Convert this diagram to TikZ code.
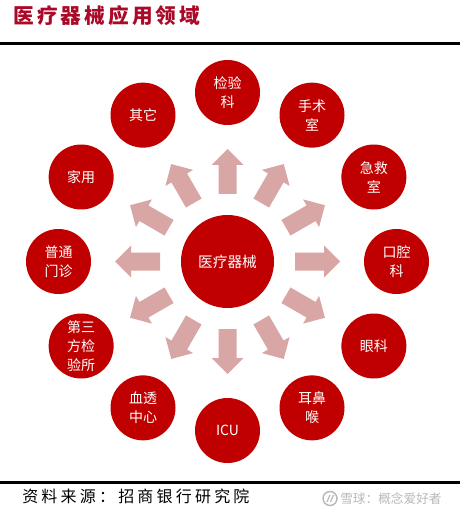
\documentclass[tikz,border=0pt]{standalone}
\usepackage{fontspec}
\newfontfamily\cjk{Noto Sans CJK SC}
\definecolor{cred}{RGB}{192,0,0}
\definecolor{tred}{RGB}{170,10,40}
\definecolor{arwc}{RGB}{217,166,166}
\definecolor{wmgray}{RGB}{185,185,185}
\newcommand\arpt[2]{({227.5+(#1)*\s+(#2)*\c},{261.5-(#1)*\c+(#2)*\s})}
\begin{document}
\begin{tikzpicture}[x=0.75pt,y=-0.75pt,
  circ/.style={circle, fill=cred, inner sep=0pt, minimum size=48.75pt, text=white, align=center,
    font=\cjk\fontsize{10.5}{14.25}\selectfont},
  hubstyle/.style={circle, fill=cred, inner sep=0pt, minimum size=69.75pt, text=white,
    font=\cjk\fontsize{11}{14}\selectfont},
  arw/.style={fill=arwc, draw=none},
  rule/.style={line width=1.6pt, black}]
\useasboundingbox (0,0) rectangle (460,513);
\fill[white] (0,0) rectangle (460,513);
% title and rules
\node[anchor=west, text=tred, inner sep=0pt, font=\cjk\bfseries\fontsize{15.5}{18}\selectfont\addfontfeatures{LetterSpace=15}] (title) at (13,16) {医疗器械应用领域};
\draw[rule] (0,43.5) -- (460,43.5);
\draw[rule] (0,482.5) -- (460,482.5);
% hub
\node[hubstyle] (hub) at (227.5,261.5) {医疗器械};
% arrows
\foreach \i in {0,...,11}{
  \pgfmathsetmacro\s{sin(30*\i)}
  \pgfmathsetmacro\c{cos(30*\i)}
  \fill[arw] \arpt{67.5}{9} -- \arpt{96.5}{9} -- \arpt{96.5}{16} -- \arpt{112.5}{0}
     -- \arpt{96.5}{-16} -- \arpt{96.5}{-9} -- \arpt{67.5}{-9} -- cycle;
}
% outer circles
\foreach \i/\t in {0/{检验\\科},1/{手术\\室},2/{急救\\室},3/{口腔\\科},4/{眼科},5/{耳鼻\\喉},
  6/{ICU},7/{血透\\中心},8/{第三\\方检\\验所},9/{普通\\门诊},10/{家用},11/{其它}}{
  \node[circ] (c\i) at ({227.5+169*sin(30*\i)},{261.5-169*cos(30*\i)}) {\t};
}
% footer
\node[anchor=west, inner sep=0pt, font=\cjk\fontsize{12}{14}\selectfont\addfontfeatures{LetterSpace=20}] (src) at (22,496) {资料来源：招商银行研究院};
\draw[wmgray, line width=1.1pt] (330,498.5) circle (7);
\draw[wmgray, line width=0.9pt] (327,502) -- (330,495) (330.5,502) -- (333.5,495);
\node[anchor=west, inner sep=0pt, text=wmgray, font=\cjk\fontsize{9.5}{12}\selectfont] (wm) at (340,498.5) {雪球：概念爱好者};
\end{tikzpicture}
\end{document}
